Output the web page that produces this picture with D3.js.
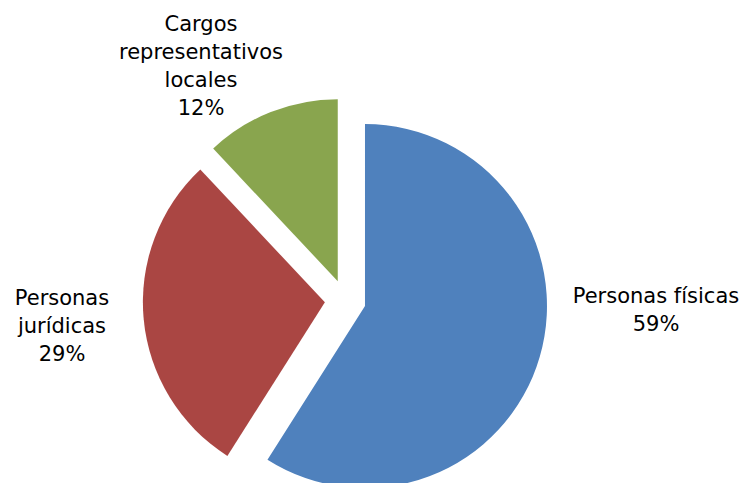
<!DOCTYPE html>
<html>
<head>
<meta charset="utf-8">
<script src="https://cdn.jsdelivr.net/npm/d3@7"></script>
<style>
html,body{margin:0;padding:0;background:#fff;}
svg{display:block;}
text{font-family:"DejaVu Sans",sans-serif;fill:#000;}
</style>
</head>
<body>
<svg id="chart" width="744" height="483"></svg>
<script>
const categories = ["Personas físicas", "Personas jurídicas", "Cargos representativos locales"];
const values = [59, 29, 12];
const labelLines = [["Personas físicas", "59%"], ["Personas", "jurídicas", "29%"], ["Cargos", "representativos", "locales", "12%"]];
const colors = ["#4F81BD", "#AA4643", "#89A54E"];

const svg = d3.select("#chart");
const cx = 345.3, cy = 300.3, R = 182, explode = 20.5;

const data = categories.map((c, i) => ({name: c, value: values[i], lines: labelLines[i], color: colors[i]}));
const pie = d3.pie().sort(null).value(d => d.value);
const arc = d3.arc().innerRadius(0).outerRadius(R);
const arcs = pie(data);

const g = svg.append("g").attr("transform", `translate(${cx},${cy})`);
g.selectAll("path").data(arcs).join("path")
  .attr("d", arc)
  .attr("fill", d => d.data.color)
  .attr("transform", d => {
    const a = (d.startAngle + d.endAngle) / 2;
    return `translate(${explode * Math.sin(a)},${-explode * Math.cos(a)})`;
  });

// label positions (centre x, first baseline y)
const labelPos = [[656, 303], [62, 305], [201, 31]];
const lineH = 28;
svg.selectAll("text.lbl").data(arcs).join("text")
  .attr("class", "lbl")
  .attr("text-anchor", "middle")
  .attr("font-size", 21)
  .each(function(d, i) {
    const t = d3.select(this);
    d.data.lines.forEach((ln, j) => {
      t.append("tspan").attr("x", labelPos[i][0]).attr("y", labelPos[i][1] + j * lineH).text(ln);
    });
  });
</script>
</body>
</html>
